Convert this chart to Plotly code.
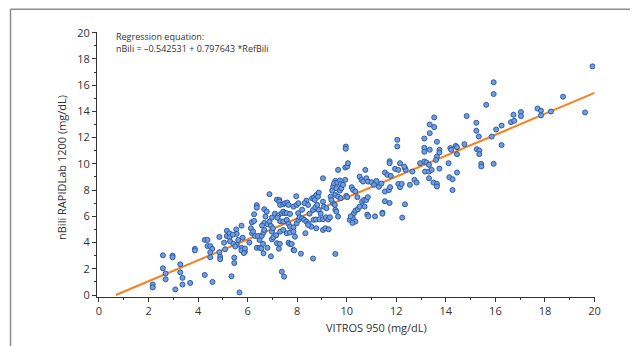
import plotly.graph_objects as go

vitros = [
 2.17,2.17,2.58,2.58,2.69,2.69,2.97,2.97,3.08,3.28,3.28,3.37,3.37,3.68,3.87,3.87,4.27,4.27,4.38,4.38,
 4.49,4.57,4.49,4.49,4.58,4.86,4.86,4.89,4.89,5.05,5.09,5.16,5.16,5.27,5.27,5.29,5.35,5.46,5.46,5.54,
 5.56,5.56,5.67,5.62,5.75,5.75,5.75,5.80,5.89,5.89,5.85,5.42,5.50,5.40,
 6.07,6.18,6.13,6.17,6.26,6.26,6.22,6.30,6.37,6.37,6.37,6.48,6.48,6.42,6.57,6.64,6.67,6.55,6.62,6.64,
 6.67,6.77,6.72,6.67,6.80,6.88,6.88,6.94,6.94,6.98,6.98,6.98,6.80,6.58,
 7.02,7.04,7.15,7.18,7.26,7.18,7.10,7.24,7.28,7.28,7.31,7.44,7.51,7.60,7.65,7.38,7.44,7.51,7.58,7.71,
 7.85,7.98,7.31,7.44,7.58,7.65,7.71,7.85,7.98,7.31,7.44,7.58,7.71,7.85,7.91,7.65,7.71,7.78,7.85,7.38,
 7.47,7.88,7.96,7.20,7.30,
 8.05,8.05,8.15,8.04,8.10,8.20,8.28,8.37,8.46,8.57,8.33,8.44,8.37,8.30,8.44,8.60,8.68,8.71,8.77,8.87,
 8.84,8.64,8.73,8.81,8.87,8.66,8.76,8.90,8.77,8.64,8.20,8.50,8.95,
 9.04,9.08,9.18,9.04,9.16,9.25,9.32,9.04,9.14,9.27,9.45,9.52,9.54,9.58,9.65,9.35,9.38,9.54,9.65,9.76,
 9.45,9.58,9.41,9.72,9.78,9.54,9.49,9.62,9.72,9.76,9.85,9.94,9.04,9.54,9.65,9.94,9.96,9.96,9.98,
 10.02,10.05,10.02,10.20,10.25,10.35,10.43,10.52,10.59,10.66,10.75,10.79,10.86,10.19,10.29,10.35,10.45,10.52,10.62,10.70,
 10.79,10.72,10.12,10.25,10.35,10.23,10.16,10.83,10.87,10.85,
 11.00,11.10,11.20,11.30,11.40,11.14,11.44,11.44,11.54,11.73,11.54,11.70,11.75,11.54,11.64,11.78,11.95,11.73,11.73,
 12.04,12.04,12.08,12.15,12.08,12.15,12.22,12.24,12.35,12.35,12.38,12.32,12.55,12.65,12.73,12.82,12.96,
 13.13,13.22,13.32,13.16,13.32,13.43,13.32,13.50,13.13,13.13,13.13,13.35,13.35,13.53,13.35,13.53,13.64,13.74,13.74,13.64,
 13.60,13.74,13.64,13.64,
 14.11,14.18,14.22,14.40,14.45,14.75,14.45,14.14,14.27,14.45,14.27,14.84,
 15.23,15.23,15.33,15.25,15.35,15.35,15.43,15.43,15.93,15.63,15.85,15.93,15.93,16.03,16.25,16.25,16.63,16.76,16.73,17.03,
 17.03,17.70,17.84,17.84,18.24,18.73,19.62,19.92,
]

nbili = [
 0.80,0.58,3.03,2.04,1.64,1.20,3.00,2.88,0.43,2.34,1.73,1.31,0.80,0.92,3.52,3.40,1.53,4.20,4.20,3.73,
 3.73,3.52,3.26,2.88,1.00,4.43,3.26,2.91,2.73,3.99,3.49,4.90,4.50,4.70,4.40,4.10,1.43,2.85,2.44,5.00,
 4.66,3.84,0.20,4.20,5.29,3.60,3.40,4.37,3.30,3.55,3.20,3.90,3.70,4.60,
 4.00,4.70,5.09,5.55,5.65,6.16,4.85,4.50,6.85,6.66,3.60,3.60,4.20,4.50,4.50,4.76,4.96,3.55,3.90,3.18,
 6.54,6.36,5.98,5.50,5.40,7.69,5.60,5.27,2.95,5.90,4.83,4.25,3.60,5.30,
 5.09,4.40,4.56,3.95,3.53,7.27,6.20,6.08,7.25,7.12,6.87,6.92,7.00,7.05,6.87,6.24,6.36,6.24,6.24,6.18,
 6.74,6.87,5.63,5.60,5.73,5.42,5.21,5.17,5.47,4.83,4.96,4.71,4.76,4.83,4.45,3.99,3.89,3.89,3.44,1.78,
 1.40,3.41,7.53,5.90,3.90,
 7.00,5.73,3.15,6.24,5.93,5.85,5.73,5.60,5.47,5.21,4.71,5.34,7.20,7.00,6.87,7.38,7.43,7.25,7.63,7.81,
 7.50,6.49,6.69,6.87,6.49,5.73,5.76,5.78,5.09,2.78,6.50,6.20,6.20,
 7.12,6.74,6.62,5.78,5.93,5.76,5.93,4.96,5.09,5.01,7.00,6.87,6.49,6.36,5.98,7.50,7.25,7.63,7.50,7.38,
 8.27,8.14,7.96,7.96,8.14,8.70,8.52,8.57,8.73,8.47,8.40,8.78,8.90,3.13,9.54,9.72,11.32,11.15,7.56,
 9.80,10.05,7.46,8.22,8.02,7.89,7.46,9.03,8.78,8.65,9.54,8.90,8.65,5.98,6.24,6.44,6.54,6.74,7.12,7.25,
 7.25,6.74,5.73,5.85,5.60,5.50,6.00,6.13,6.00,7.46,
 8.60,8.40,8.70,8.25,8.50,6.00,6.28,6.20,7.15,7.02,7.89,8.00,8.22,9.34,9.16,9.08,9.62,10.20,10.05,
 11.83,11.32,9.54,10.05,8.47,8.22,8.47,5.90,6.92,9.67,9.54,9.79,8.40,9.41,8.78,8.57,10.05,
 10.18,10.10,9.92,9.41,9.41,9.54,8.90,8.57,11.93,11.22,10.92,11.07,13.00,12.80,12.34,13.54,11.68,11.07,10.86,10.56,
 10.30,9.64,8.47,8.27,
 10.05,11.20,11.07,11.37,11.27,11.50,10.74,8.98,8.83,9.34,8.00,13.64,
 13.13,12.52,12.08,11.12,11.02,10.74,10.00,9.80,10.00,14.50,12.08,16.22,15.32,12.62,12.92,11.43,13.18,13.28,13.74,13.95,
 13.64,14.22,14.05,13.69,13.99,15.12,13.92,17.43,
]

intercept = -0.542531
slope = 0.797643
fit_x = [0.68, 20.0]
fit_y = [intercept + slope * v for v in fit_x]

x_ticks = [0, 2, 4, 6, 8, 10, 12, 14, 16, 18, 20]
y_ticks = [0, 2, 4, 6, 8, 10, 12, 14, 16, 18, 20]

FONT = "Open Sans, Noto Sans, sans-serif"

fig = go.Figure()
fig.add_trace(go.Scatter(
    x=fit_x, y=fit_y, mode="lines",
    line=dict(color="#f5821f", width=2), hoverinfo="skip", showlegend=False))
fig.add_trace(go.Scatter(
    x=vitros, y=nbili, mode="markers",
    marker=dict(size=5, color="#739ddc", line=dict(color="#2b5ca8", width=1)),
    showlegend=False))

axis_common = dict(
    showgrid=False, zeroline=False, showline=True, linecolor="#333333", linewidth=1,
    ticks="outside", ticklen=4, tickcolor="#333333", tickwidth=1,
    tickfont=dict(family=FONT, size=11, color="#333333"),
    minor=dict(ticks="outside", ticklen=2, tickcolor="#333333", dtick=1),
)

fig.update_xaxes(range=[-0.08, 20.02], tickvals=x_ticks, **axis_common)
fig.update_yaxes(range=[-0.15, 20.05], tickvals=y_ticks, **axis_common)

# page body has an 8px margin: plot area sits at window px 97..595 x 32..297
fig.update_layout(
    width=638, height=346,
    margin=dict(l=89, r=51, t=24, b=57),
    paper_bgcolor="white", plot_bgcolor="white",
    font=dict(family=FONT, color="#333333"),
    annotations=[
        dict(text="VITROS 950 (mg/dL)", xref="paper", yref="paper",
             x=(376 - 97) / 498, y=-(327 - 297) / 265, xanchor="center", yanchor="middle",
             showarrow=False, font=dict(family=FONT, size=11, color="#333333")),
        dict(text="nBili RAPIDLab 1200 (mg/dL)", xref="paper", yref="paper",
             x=-(97 - 61) / 498, y=(297 - 168) / 265, xanchor="center", yanchor="middle",
             textangle=-90, showarrow=False, font=dict(family=FONT, size=11, color="#333333")),
        dict(text="Regression equation:<br>nBili = \u20130.542531 + 0.797643 *RefBili",
             xref="paper", yref="paper", x=(114 - 97) / 498, y=(297 - 28) / 265,
             xanchor="left", yanchor="top", align="left", showarrow=False,
             font=dict(family=FONT, size=9, color="#333333")),
    ],
    shapes=[
        dict(type="line", xref="paper", yref="paper",
             x0=(10.5 - 97) / 498, x1=(10.5 - 97) / 498, y0=(297 - 9.3) / 265, y1=(297 - 360) / 265,
             line=dict(color="#8c8c8c", width=1.5)),
        dict(type="line", xref="paper", yref="paper",
             x0=(10.5 - 97) / 498, x1=(650 - 97) / 498, y0=(297 - 9.3) / 265, y1=(297 - 9.3) / 265,
             line=dict(color="#8c8c8c", width=1.5)),
    ],
)

fig.write_html("out.html")
